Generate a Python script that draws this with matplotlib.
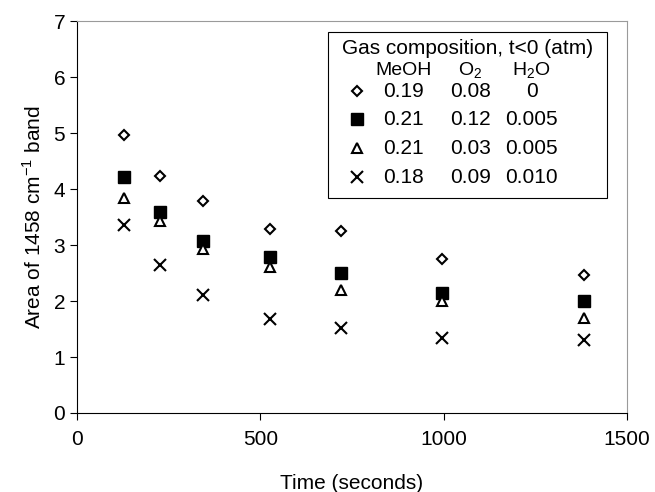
import numpy as np
import matplotlib.pyplot as plt

plt.rcParams['font.family'] = ['Liberation Sans', 'DejaVu Sans']
plt.rcParams['mathtext.fontset'] = 'custom'
plt.rcParams['mathtext.rm'] = 'Liberation Sans'

# Data
time_s = [128, 226, 344, 526, 720, 995, 1383]
area_a = [4.96, 4.23, 3.79, 3.29, 3.25, 2.75, 2.46]   # diamond
area_b = [4.21, 3.59, 3.07, 2.79, 2.50, 2.14, 2.00]   # filled square
area_c = [3.84, 3.43, 2.93, 2.61, 2.20, 2.00, 1.70]   # triangle
area_d = [3.36, 2.64, 2.11, 1.68, 1.52, 1.34, 1.30]   # cross

meoh = ['0.19', '0.21', '0.21', '0.18']
o2 = ['0.08', '0.12', '0.03', '0.09']
h2o = ['0', '0.005', '0.005', '0.010']

styles = [
    dict(marker='D', ms=5.5, mfc='white', mec='black', mew=1.5),
    dict(marker='s', ms=8, mfc='black', mec='black', mew=1),
    dict(marker='^', ms=7, mfc='white', mec='black', mew=1.5),
    dict(marker='x', ms=9, mfc='none', mec='black', mew=1.5),
]

fs = 15
fig = plt.figure(figsize=(6.55, 4.92), dpi=100)
ax = fig.add_axes([0.1176, 0.1606, 0.8394, 0.7964])

for ys, st in zip([area_a, area_b, area_c, area_d], styles):
    ax.plot(time_s, ys, ls='none', **st)

ax.set_xlim(0, 1500)
ax.set_ylim(0, 7)
ax.set_xticks([0, 500, 1000, 1500])
ax.set_yticks(range(8))
ax.tick_params(labelsize=fs, direction='out', length=5, width=0.8)
ax.tick_params(axis='x', pad=7)
for s in ['top', 'right']:
    ax.spines[s].set_color('#9a9a9a')
    ax.spines[s].set_linestyle((0, (1, 1)))
ax.set_xlabel('Time (seconds)', fontsize=fs, labelpad=18)
ax.set_ylabel('Area of 1458 cm$^{\\mathrm{-1}}$ band', fontsize=fs, labelpad=6)

# custom legend table
box = plt.Rectangle((0.456, 0.548), 0.508, 0.424, transform=ax.transAxes,
                    fill=True, fc='white', ec='black', lw=0.8, zorder=3)
ax.add_patch(box)
ax.text(0.71, 0.931, 'Gas composition, t<0 (atm)', transform=ax.transAxes,
        ha='center', va='center', fontsize=fs, zorder=4)
col_x = [0.593, 0.715, 0.827]
for cx, h in zip(col_x, ['MeOH', 'O$_2$', 'H$_2$O']):
    ax.text(cx, 0.873, h, transform=ax.transAxes, ha='center', va='center',
            fontsize=14, zorder=4)
row_y = [0.821, 0.750, 0.676, 0.602]
for ry, st, a, b, c in zip(row_y, styles, meoh, o2, h2o):
    ax.plot([0.509], [ry], transform=ax.transAxes, ls='none', zorder=4,
            clip_on=False, **st)
    for cx, t in zip(col_x, [a, b, c]):
        ax.text(cx, ry, t, transform=ax.transAxes, ha='center', va='center',
                fontsize=fs, zorder=4)

fig.savefig('out.png', dpi=100)
